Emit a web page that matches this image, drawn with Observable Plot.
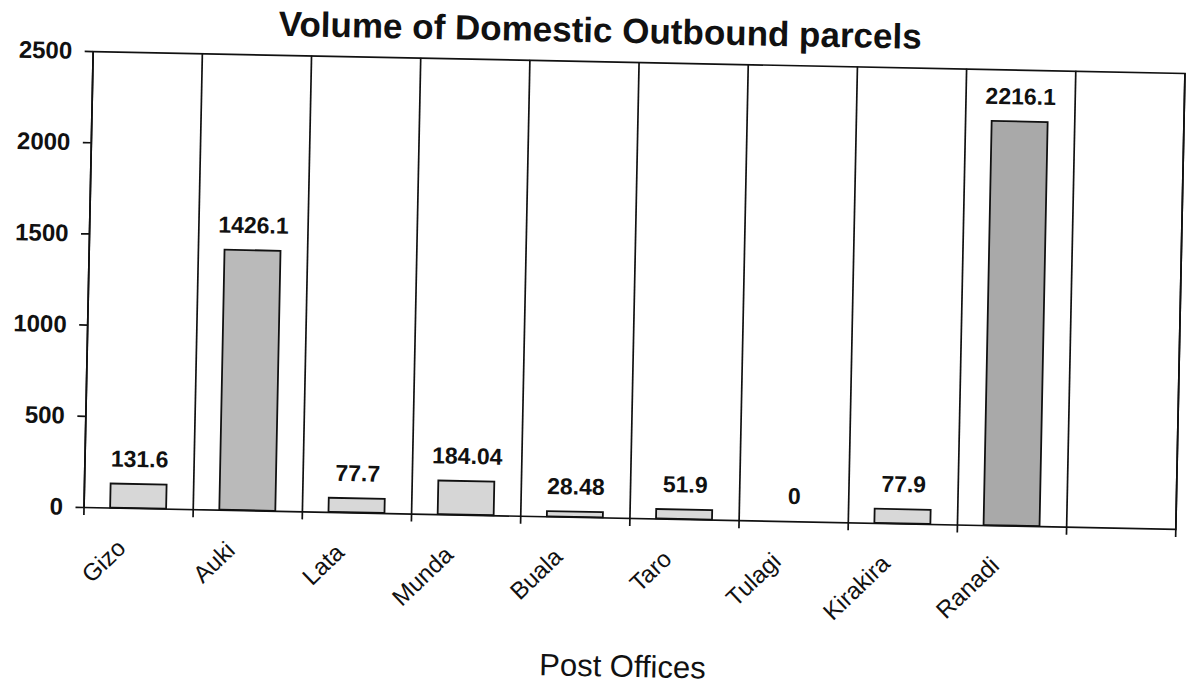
<!DOCTYPE html>
<html>
<head>
<meta charset="utf-8">
<script src="https://cdn.jsdelivr.net/npm/d3@7"></script>
<script src="https://cdn.jsdelivr.net/npm/@observablehq/plot@0.6"></script>
<style>
  html, body { margin: 0; padding: 0; background: #fff; }
  #page {
    position: absolute; left: 0; top: 0; width: 1190px; height: 686px;
    transform-origin: 634px 290px; transform: rotate(1.15deg);
    font-family: "Liberation Sans", Arial, sans-serif; color: #111;
  }
  #title {
    position: absolute; left: 0; top: 13px; width: 1190px; text-align: center;
    font-size: 35px; line-height: 35px; font-weight: bold;
  }
  #xlabel {
    position: absolute; left: 0; top: 652px; width: 1120px; padding-left: 70px; text-align: center;
    font-size: 31px; line-height: 30px;
  }
  #chart { position: absolute; left: 0; top: 0; }
  svg { overflow: visible; }
</style>
</head>
<body>
<div id="page">
  <div id="chart"></div>
  <div id="title">Volume of Domestic Outbound parcels</div>
  <div id="xlabel">Post Offices</div>
</div>
<script>
// Data
const categories = ["Gizo", "Auki", "Lata", "Munda", "Buala", "Taro", "Tulagi", "Kirakira", "Ranadi"];
const volumes = [131.6, 1426.1, 77.7, 184.04, 28.48, 51.9, 0, 77.9, 2216.1];
const yTicks = [0, 500, 1000, 1500, 2000, 2500];
const slotCount = categories.length + 1; // one empty slot on the right

const data = categories.map((name, i) => ({name, i, value: volumes[i]}));
const boundaries = d3.range(0, slotCount + 1);

const chart = Plot.plot({
  width: 1190,
  height: 686,
  marginLeft: 88,
  marginRight: 10,
  marginTop: 62,
  marginBottom: 168,
  style: {fontFamily: "Liberation Sans, Arial, sans-serif", color: "#111", background: "transparent", overflow: "visible"},
  x: {type: "linear", domain: [0, slotCount], axis: null},
  y: {domain: [0, 2500], axis: null},
  color: {type: "linear", domain: [0, d3.max(volumes)], range: ["#dadada", "#a9a9a9"]},
  marks: [
    Plot.rectY(data, {
      x1: "i", x2: d => d.i + 1, y: "value",
      insetLeft: 26.6, insetRight: 26.6,
      fill: "value", stroke: "#111", strokeWidth: 1.8
    }),
    Plot.ruleX(boundaries, {x: d => d, stroke: "#111", strokeWidth: 1.7, insetBottom: -8}),
    Plot.frame({stroke: "#111", strokeWidth: 1.7}),
    Plot.axisY({
      ticks: yTicks, tickSize: 8, tickPadding: 13, tickFormat: d => String(d),
      fontSize: 24, fontWeight: "bold", label: null, strokeWidth: 1.7
    }),
    Plot.axisX({
      ticks: categories.map((c, i) => i + 0.5),
      tickFormat: t => categories[Math.floor(t)],
      tickSize: 0, tickPadding: 36, tickRotate: -45, dx: -16,
      fontSize: 24, label: null
    }),
    Plot.text(data, {
      x: d => d.i + 0.5, y: "value", text: d => String(d.value),
      dy: -25, lineAnchor: "middle", fontSize: 23, fontWeight: "bold", fill: "#111"
    })
  ]
});
document.getElementById("chart").appendChild(chart);
</script>
</body>
</html>
